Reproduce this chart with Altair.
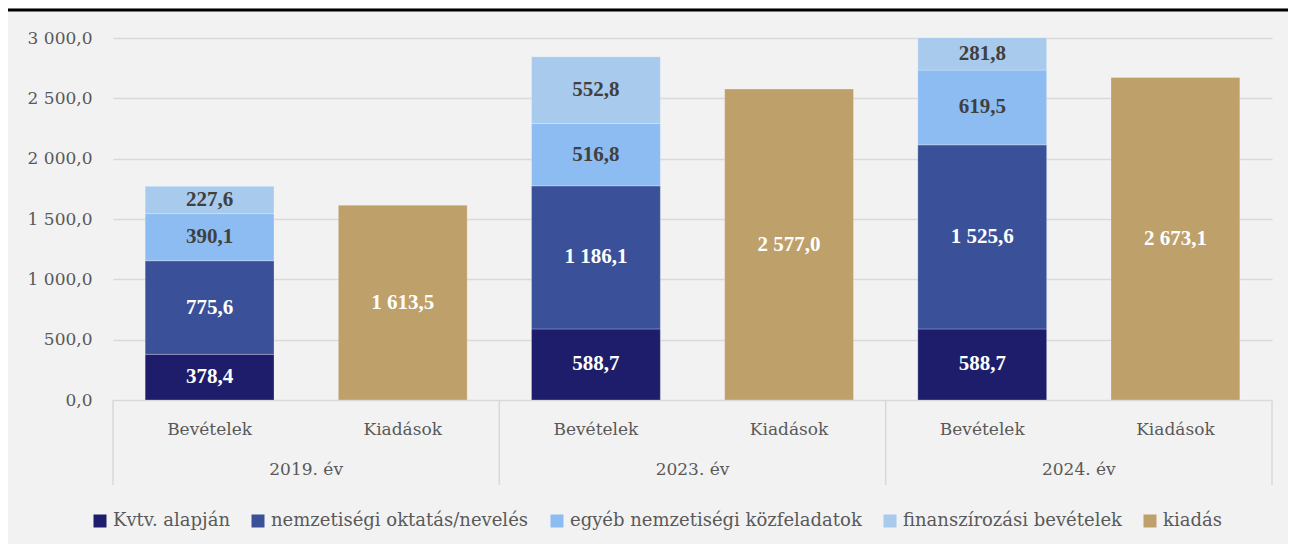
import altair as alt
import pandas as pd

years = ["2019. év", "2023. év", "2024. év"]
kinds = ["Bevételek", "Kiadások"]
series = ["Kvtv. alapján", "nemzetiségi oktatás/nevelés",
          "egyéb nemzetiségi közfeladatok", "finanszírozási bevételek", "kiadás"]
colors = ["#1e1d6b", "#3a519a", "#8cbcf1", "#a8caec", "#bea06a"]

kvtv = [378.4, 588.7, 588.7]
oktatas = [775.6, 1186.1, 1525.6]
egyeb = [390.1, 516.8, 619.5]
finansz = [227.6, 552.8, 281.8]
kiadas = [1613.5, 2577.0, 2673.1]

YMAX = 3000


def hu(v):
    return f"{v:,.1f}".replace(",", " ").replace(".", ",")


slots = [f"{y}|{k}" for y in years for k in kinds]

rows = []
for i, y in enumerate(years):
    base = 0.0
    for s, vals in zip(series[:4], [kvtv, oktatas, egyeb, finansz]):
        v = vals[i]
        top = base + v
        rows.append(dict(slot=f"{y}|Bevételek", series=s, order=series.index(s),
                         y0=base, y1=top, ym=(base + min(top, YMAX)) / 2, label=hu(v)))
        base = top
    v = kiadas[i]
    rows.append(dict(slot=f"{y}|Kiadások", series="kiadás", order=4,
                     y0=0.0, y1=v, ym=v / 2, label=hu(v)))
df = pd.DataFrame(rows)

cat_df = pd.DataFrame([dict(slot=f"{y}|{k}", kind=k, year=y) for y in years for k in kinds])
bev_df = cat_df[cat_df.kind == "Bevételek"]
last_df = cat_df.iloc[[-1]]
top_df = pd.DataFrame({"k": [0]})

FONT = "DejaVu Serif"
GRAY = "#595959"

xs = alt.X("slot:N", sort=slots, scale=alt.Scale(paddingInner=0, paddingOuter=0), axis=None)

bars = alt.Chart(df).mark_bar(
    width={"band": 0.667}, clip=True, stroke="#ffffff", strokeWidth=0.5, strokeOpacity=0.5
).encode(
    x=xs,
    y=alt.Y("y0:Q", scale=alt.Scale(domain=[0, YMAX], nice=False),
            axis=alt.Axis(values=[0, 500, 1000, 1500, 2000, 2500, 3000],
                          labelExpr="replace(replace(format(datum.value, ',.1f'), ',', ' '), '.', ',')",
                          title=None, domain=False, ticks=False, labelPadding=21,
                          labelFont=FONT, labelFontSize=17, labelColor=GRAY,
                          grid=True, gridColor="#d9d9d9", gridWidth=1.5)),
    y2="y1:Q",
    color=alt.Color("series:N", sort=series,
                    scale=alt.Scale(domain=series, range=colors),
                    legend=alt.Legend(title=None, orient="none", direction="horizontal",
                                      legendX=-22, legendY=474,
                                      symbolType="square", symbolSize=169,
                                      symbolStrokeWidth=0, labelLimit=0,
                                      labelFont=FONT, labelFontSize=18, labelColor=GRAY,
                                      columnPadding=19, labelOffset=4)),
    order=alt.Order("order:Q"),
)

light = ["egyéb nemzetiségi közfeladatok", "finanszírozási bevételek"]

lab_white = alt.Chart(df).transform_filter(
    ~alt.FieldOneOfPredicate(field="series", oneOf=light)
).mark_text(font="Liberation Serif", fontWeight="bold", fontSize=21, color="#ffffff",
            baseline="middle").encode(x=xs, y="ym:Q", text="label:N")

lab_dark = alt.Chart(df).transform_filter(
    alt.FieldOneOfPredicate(field="series", oneOf=light)
).mark_text(font="Liberation Serif", fontWeight="bold", fontSize=21, color="#404040",
            baseline="middle").encode(x=xs, y="ym:Q", text="label:N")

cat_labels = alt.Chart(cat_df).mark_text(
    font=FONT, fontSize=17, color=GRAY, baseline="middle"
).encode(x=xs, y=alt.value(392), text="kind:N")

year_labels = alt.Chart(bev_df).mark_text(
    font=FONT, fontSize=17, color=GRAY, baseline="middle"
).encode(x=alt.X("slot:N", sort=slots, bandPosition=1), y=alt.value(432), text="year:N")

sep = alt.Chart(bev_df).mark_rule(color="#d9d9d9", strokeWidth=1.5).encode(
    x=alt.X("slot:N", sort=slots, bandPosition=0), y=alt.value(362), y2=alt.value(447))

sep_last = alt.Chart(last_df).mark_rule(color="#d9d9d9", strokeWidth=1.5).encode(
    x=alt.X("slot:N", sort=slots, bandPosition=1), y=alt.value(362), y2=alt.value(447))

top_line = alt.Chart(top_df).mark_rule(color="#000000", strokeWidth=3).encode(
    x=alt.value(-105), x2=alt.value(1175), y=alt.value(-28))

chart = alt.layer(
    bars, lab_white, lab_dark, cat_labels, year_labels, sep, sep_last, top_line
).properties(
    width=1159, height=362,
    autosize=alt.AutoSizeParams(type="none"),
    padding={"left": 105, "top": 30, "right": 16, "bottom": 144},
    background="#f2f2f2",
).configure_view(stroke=None)

chart.save("out.html", embed_options={"renderer": "svg", "actions": False})
